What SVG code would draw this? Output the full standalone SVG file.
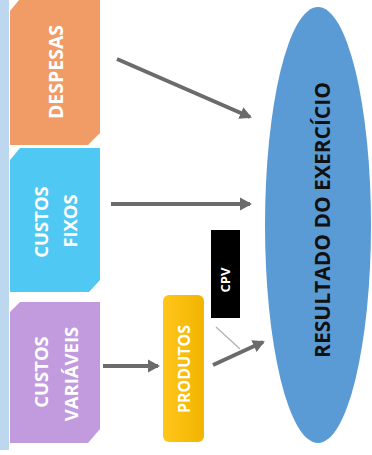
<svg xmlns="http://www.w3.org/2000/svg" width="372" height="455" viewBox="0 0 372 455">
<defs>
<style>
.lbl{font-family:"Open Sans","Liberation Sans",sans-serif;font-weight:bold;fill:#ffffff;text-anchor:middle;dominant-baseline:central}
.conn{stroke:#6b6b6b;stroke-width:4;fill:none;marker-end:url(#ah)}
</style>
<marker id="ah" markerWidth="4" markerHeight="4" refX="2.5" refY="2" orient="auto" markerUnits="strokeWidth">
<path d="M0,0.4 L3,2 L0,3.6 Z" fill="#6b6b6b"/>
</marker>
<linearGradient id="yg" x1="0" y1="0" x2="1" y2="0">
<stop offset="0" stop-color="#FFC61A"/>
<stop offset="1" stop-color="#F2B400"/>
</linearGradient>
</defs>
<rect width="372" height="455" fill="#ffffff"/>
<rect id="strip" x="0" y="0" width="9" height="450" fill="#BDD7EE"/>
<g id="despesas">
<path d="M10,11 L19,0 L100,0 L100,133 L88,145 L10,145 Z" fill="#F19B66"/>
<text class="lbl" font-size="19.5" transform="translate(55,72) rotate(-90)">DESPESAS</text>
</g>
<g id="custos-fixos">
<path d="M10,160 L20,148 L100,148 L100,280 L89,292 L10,292 Z" fill="#4FC9F4"/>
<text class="lbl" font-size="18.5" transform="translate(40,222) rotate(-90)">CUSTOS</text>
<text class="lbl" font-size="18.5" transform="translate(69,221) rotate(-90)">FIXOS</text>
</g>
<g id="custos-variaveis">
<path d="M10,312 L20,302 L100,302 L100,429 L88,443 L10,443 Z" fill="#C29BDF"/>
<text class="lbl" font-size="18.5" transform="translate(40,372) rotate(-90)">CUSTOS</text>
<text class="lbl" font-size="18.5" transform="translate(70,374) rotate(-90)">VARIÁVEIS</text>
</g>
<g id="produtos">
<rect x="163" y="295" width="41" height="147" rx="6" fill="url(#yg)"/>
<text class="lbl" font-size="16" transform="translate(184,369) rotate(-90)">PRODUTOS</text>
</g>
<g id="cpv">
<rect x="211" y="230" width="29" height="88" fill="#000000"/>
<text class="lbl" font-size="13" transform="translate(225,280) rotate(-90)">CPV</text>
</g>
<g id="resultado">
<ellipse cx="318" cy="225" rx="53" ry="218" fill="#5B9BD5"/>
<text font-family="'Open Sans','Liberation Sans',sans-serif" font-weight="bold" font-size="21" fill="#111111" text-anchor="middle" dominant-baseline="central" transform="translate(322,220) rotate(-90)">RESULTADO DO EXERCÍCIO</text>
</g>
<g id="connectors">
<line class="conn" x1="117" y1="59" x2="250" y2="117"/>
<line class="conn" x1="111" y1="204" x2="250" y2="204"/>
<line class="conn" x1="103" y1="366" x2="158" y2="366"/>
<line class="conn" x1="213" y1="365" x2="263" y2="342"/>
<line x1="216" y1="327" x2="240" y2="349" stroke="#b0b0b0" stroke-width="1.2"/>
</g>
</svg>
